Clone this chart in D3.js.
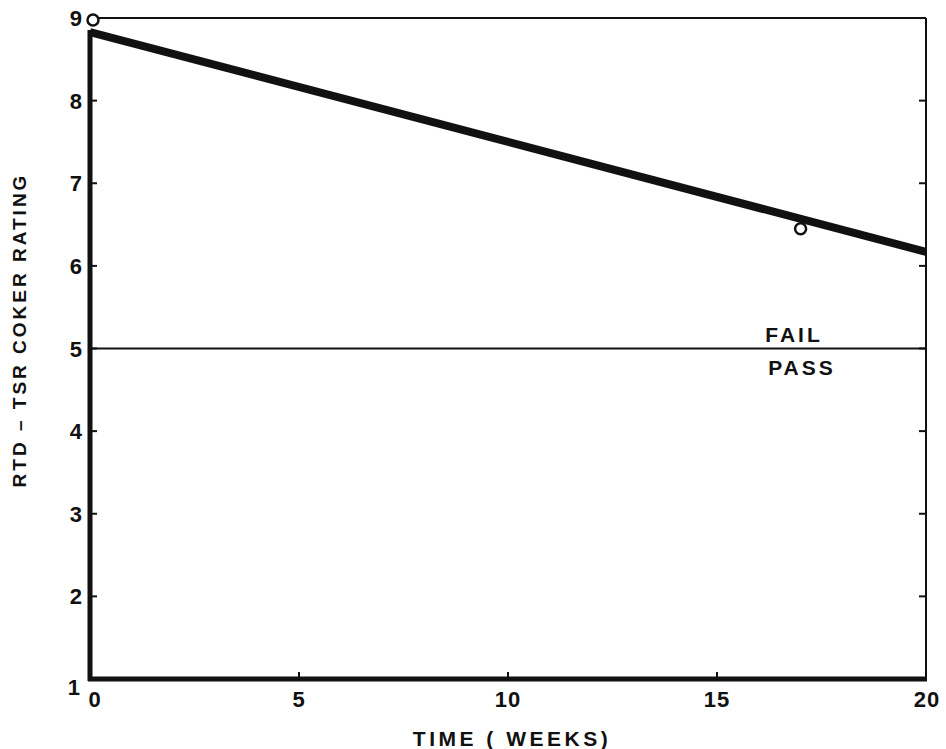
<!DOCTYPE html>
<html><head><meta charset="utf-8">
<script src="https://cdn.jsdelivr.net/npm/d3@7"></script>
<style>body{margin:0;background:#fff}svg text{font-family:"Liberation Sans",Arial,sans-serif;fill:#111}</style>
</head><body>
<script>
const xTicks = [0, 5, 10, 15, 20];
const xTickLabels = ["0", "5", "10", "15", "20"];
const yTicks = [1, 2, 3, 4, 5, 6, 7, 8, 9];
const pointWeeks = [0, 17];
const pointRatings = [9.0, 6.45];
const fitWeeks = [0, 20];
const fitRatings = [8.83, 6.17];
const passFailRating = 5;

const W = 946, H = 749;
const svg = d3.select("body").append("svg").attr("width", W).attr("height", H);
const x = d3.scaleLinear().domain([0, 20]).range([90, 926]);
const y = d3.scaleLinear().domain([1, 9]).range([679, 18]);

// frame
svg.append("line").attr("x1", x(0)).attr("x2", x(20)).attr("y1", y(9)).attr("y2", y(9)).attr("stroke", "#111").attr("stroke-width", 2);
svg.append("line").attr("x1", x(20)).attr("x2", x(20)).attr("y1", y(9)).attr("y2", y(1)).attr("stroke", "#111").attr("stroke-width", 2);
svg.append("line").attr("x1", x(0)).attr("x2", x(0)).attr("y1", y(9)+12).attr("y2", y(1)+2).attr("stroke", "#111").attr("stroke-width", 5);
svg.append("line").attr("x1", x(0)-2).attr("x2", x(20)+1).attr("y1", y(1)).attr("y2", y(1)).attr("stroke", "#111").attr("stroke-width", 5);

// ticks
const tl = 7;
yTicks.filter(v => v > 1 && v < 9).forEach(v => {
  svg.append("line").attr("x1", x(0)).attr("x2", x(0)+tl).attr("y1", y(v)).attr("y2", y(v)).attr("stroke", "#111").attr("stroke-width", 2);
  svg.append("line").attr("x1", x(20)).attr("x2", x(20)-tl).attr("y1", y(v)).attr("y2", y(v)).attr("stroke", "#111").attr("stroke-width", 2);
});
xTicks.filter(v => v > 0 && v < 20).forEach(v => {
  svg.append("line").attr("x1", x(v)).attr("x2", x(v)).attr("y1", y(1)).attr("y2", y(1)-tl).attr("stroke", "#111").attr("stroke-width", 2);
});

// tick labels
yTicks.forEach(v => {
  svg.append("text").attr("x", x(0) - (v === 1 ? 10 : 8)).attr("y", y(v) + (v === 1 ? 16 : 8))
    .attr("text-anchor", "end").attr("font-size", 22).attr("font-weight", "bold").text(v);
});
xTicks.forEach((v, i) => {
  svg.append("text").attr("x", x(v) + (v === 0 ? 5 : (v === 20 ? 1 : 0))).attr("y", y(1) + 28)
    .attr("text-anchor", "middle").attr("font-size", 22).attr("font-weight", "bold").attr("letter-spacing", 1).text(xTickLabels[i]);
});

// axis titles
svg.append("text").attr("x", 512).attr("y", 746).attr("text-anchor", "middle")
  .attr("font-size", 21).attr("font-weight", "bold").attr("letter-spacing", 3.5).text("TIME ( WEEKS)");
svg.append("text").attr("transform", "translate(26,330) rotate(-90)").attr("text-anchor", "middle")
  .attr("font-size", 19).attr("font-weight", "bold").attr("letter-spacing", 3).text("RTD – TSR COKER RATING");

// pass/fail line
svg.append("line").attr("x1", x(0)).attr("x2", x(20)).attr("y1", y(passFailRating)).attr("y2", y(passFailRating)).attr("stroke", "#111").attr("stroke-width", 2);
svg.append("text").attr("x", 794).attr("y", y(passFailRating) - 7).attr("text-anchor", "middle")
  .attr("font-size", 21).attr("font-weight", "bold").attr("letter-spacing", 3).text("FAIL");
svg.append("text").attr("x", 802).attr("y", y(passFailRating) + 26).attr("text-anchor", "middle")
  .attr("font-size", 21).attr("font-weight", "bold").attr("letter-spacing", 3).text("PASS");

// fitted line
const fit = fitWeeks.map((w, i) => [w, fitRatings[i]]);
svg.append("path").attr("d", d3.line().x(d => x(d[0])).y(d => y(d[1]))(fit))
  .attr("fill", "none").attr("stroke", "#111").attr("stroke-width", 8);

// data points
pointWeeks.forEach((w, i) => {
  svg.append("circle").attr("cx", x(w) + (w === 0 ? 3 : 0)).attr("cy", y(pointRatings[i]) + (w === 0 ? 2 : 0)).attr("r", 5.5)
    .attr("fill", "#fff").attr("stroke", "#111").attr("stroke-width", 2.5);
});
</script>
</body></html>
